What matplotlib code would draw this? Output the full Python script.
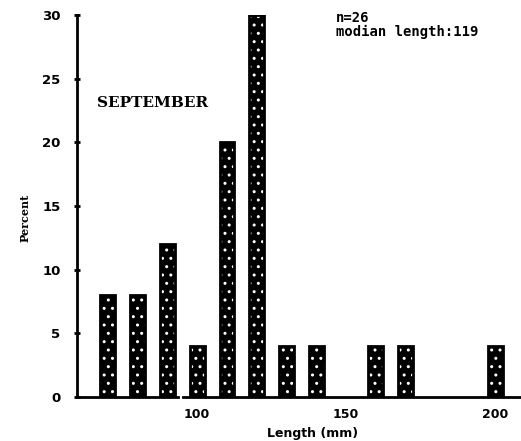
import matplotlib
matplotlib.use("Agg")
import matplotlib.pyplot as plt

# fish length classes (mm) and percent of catch
lengths = [70, 80, 90, 100, 110, 120, 130, 140, 160, 170, 200]
percent = [8, 8, 12, 4, 20, 30, 4, 4, 4, 4, 4]
xticks = [100, 150, 200]
yticks = [0, 5, 10, 15, 20, 25, 30]

fig = plt.figure(figsize=(5.21, 4.41), dpi=100)
ax = fig.add_axes([0.148, 0.100, 0.852, 0.866])

# dark speckled bars: black fill, white dot hatch, black outline
ax.bar(lengths, percent, width=5, color="black", linewidth=0)
ax.bar(lengths, percent, width=5, fill=False, edgecolor="white", hatch="..", linewidth=0)
ax.bar(lengths, percent, width=5, fill=False, edgecolor="black", linewidth=2)

ax.set_xlim(59.7, 208.7)
ax.set_ylim(0, 30)
ax.set_xticks(xticks)
ax.set_yticks(yticks)
ax.tick_params(axis="x", length=0, pad=8, labelsize=9)
ax.tick_params(axis="y", direction="inout", length=4, width=2, pad=10, labelsize=9.5)
for lab in ax.get_xticklabels() + ax.get_yticklabels():
    lab.set_fontweight("bold")

for s in ["top", "right", "bottom"]:
    ax.spines[s].set_visible(False)
ax.spines["left"].set_linewidth(2)

# broken x axis line
tr = ax.get_xaxis_transform()
ax.plot([59.7, 93.5], [0, 0], color="black", lw=2, transform=tr, clip_on=False)
ax.plot([95.2, 208.7], [0, 0], color="black", lw=2, transform=tr, clip_on=False)

ax.set_xlabel("Length (mm)", fontsize=9, fontweight="bold")
ax.xaxis.set_label_coords(0.53, -0.08)
ax.set_ylabel("Percent", fontsize=8, fontweight="bold", family="serif")
ax.yaxis.set_label_coords(-0.105, 0.47)

ax.text(0.045, 0.77, "SEPTEMBER", transform=ax.transAxes, fontsize=11,
        fontweight="bold", family="serif", va="center")
ax.text(0.583, 1.01, "n=26\nmodian length:119", transform=ax.transAxes,
        fontsize=10, fontweight="bold", family="monospace", va="top", linespacing=1.0)

fig.savefig("out.png", dpi=100)
